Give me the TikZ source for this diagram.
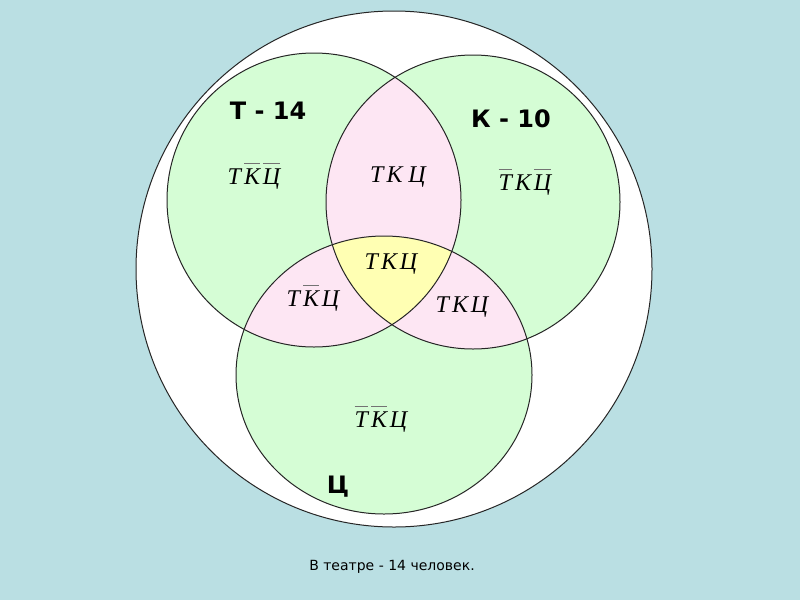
\documentclass[tikz,border=0pt]{standalone}
\usepackage{fontspec}
\setmainfont{Liberation Serif}
\setsansfont{DejaVu Sans}
\usetikzlibrary{positioning}
\definecolor{bgblue}{HTML}{BADFE3}
\definecolor{setgreen}{HTML}{D5FDD5}
\definecolor{setpink}{HTML}{FDE6F3}
\definecolor{setyellow}{HTML}{FFFFB3}
\tikzset{
    set/.style={
        draw=black!85,
        line width=1pt},
    region/.style={
        font=\itshape\fontsize{24}{24}\selectfont},
    setname/.style={
        font=\sffamily\bfseries\fontsize{24}{24}\selectfont}}
% letter with a bar over it, and a small gap between letters
\newcommand{\ov}[1]{\vbox{\color{black!55}\hrule height 1.2pt\kern 4.5pt\hbox{\color{black}#1}}}
\newcommand{\gp}{\kern 3pt}

\begin{document}
\begin{tikzpicture}[x=1pt,y=-1pt]
    \fill[bgblue] (0,0) rectangle (800,600);
    \useasboundingbox (0,0) rectangle (800,600);

    \coordinate (U) at (394,269);
    \coordinate (T) at (314,200);
    \coordinate (K) at (473,202);
    \coordinate (C) at (384,375);

    % universe
    \draw[set,fill=white] (U) circle (258);

    % the three sets
    \fill[setgreen] (T) circle (147);
    \fill[setgreen] (K) circle (147);
    \fill[setgreen] (C) ellipse (148 and 139);
    \begin{scope}
        \clip (T) circle (147);
        \fill[setpink] (K) circle (147);
        \fill[setpink] (C) ellipse (148 and 139);
    \end{scope}
    \begin{scope}
        \clip (K) circle (147);
        \fill[setpink] (C) ellipse (148 and 139);
    \end{scope}
    \begin{scope}
        \clip (T) circle (147);
        \clip (K) circle (147);
        \fill[setyellow] (C) ellipse (148 and 139);
    \end{scope}
    \draw[set] (T) circle (147);
    \draw[set] (K) circle (147);
    \draw[set] (C) ellipse (148 and 139);

    % names
    \node[setname] (nameT) at (268,111) {Т - 14};
    \node[setname] (nameK) at (511,119) {К - 10};
    \node[setname] (nameC) at (338,487) {Ц};

    % regions
    \node[region] (onlyT) at (254,176) {Т\gp\ov{К}\gp\ov{Ц}};
    \node[region] (TK) at (398,177) {Т\gp К\kern6pt Ц};
    \node[region] (onlyK) at (525,182) {\ov{Т}\gp К\gp\ov{Ц}};
    \node[region] (TKC) at (391,264) {Т\gp К\gp Ц};
    \node[region] (TC) at (313,298) {Т\gp\ov{К}\gp Ц};
    \node[region] (KC) at (462,307) {Т\gp К\gp Ц};
    \node[region] (onlyC) at (381,419) {\ov{Т}\gp\ov{К}\gp Ц};

    \node[font=\sffamily\fontsize{14}{14}\selectfont] (note) at (392,567) {В театре - 14 человек.};
\end{tikzpicture}
\end{document}
